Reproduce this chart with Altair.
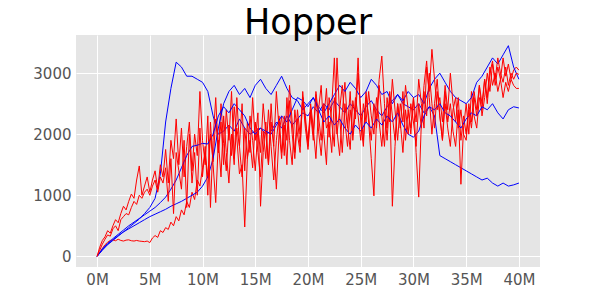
import altair as alt
import pandas as pd

# x step (millions of timesteps) for each kind of series
red_step = 0.25
blue_step = 0.5

x_ticks = [0, 5, 10, 15, 20, 25, 30, 35, 40]
y_ticks = [0, 1000, 2000, 3000]
title_text = ["Hopper"]

blue_1 = [
    0, 100, 190, 260, 330, 400, 470, 540, 610, 700,
    800, 950, 1350, 2200, 2750, 3180, 3100, 2950, 2950, 2900,
    2850, 2700, 2300, 2000, 2050, 2150, 2050, 2250, 2100, 2000,
    2050, 2100, 2000, 2050, 2200, 2100, 2300, 2150, 2250, 2350,
    2300, 2450, 2350, 2500, 2400, 2550, 2450, 2350, 2500, 2400,
    2300, 2450, 2550, 2400, 2300, 2450, 2550, 2650, 2500, 2450,
    2400, 2500, 2350, 2450, 2300, 1650, 1600, 1550, 1500, 1450,
    1400, 1350, 1300, 1250, 1280, 1200, 1150, 1200, 1150, 1170,
    1200,
]
blue_2 = [
    0, 110, 200, 270, 340, 400, 450, 500, 550, 600,
    650, 690, 730, 770, 820, 860, 900, 950, 1000, 1050,
    1150, 1300, 1600, 2100, 2500, 2700, 2800, 2650, 2750, 2600,
    2800, 2900, 2750, 2650, 2800, 2950, 2750, 2600, 2550, 2400,
    2500, 2600, 2450, 2350, 2500, 2650, 2800, 2700, 2850, 2750,
    2600, 2700, 2900, 2800, 2650, 2700, 2500, 2650, 2550, 2700,
    2600, 2650, 2500, 2750, 2900, 3000, 2850, 2700, 2600, 2550,
    2500, 2600, 2850, 2950, 3100, 3250, 3150, 3300, 3450, 3100,
    2900,
]
blue_3 = [
    0, 120, 210, 290, 360, 430, 500, 560, 620, 680,
    740, 800, 880, 970, 1100, 1250, 1450, 1650, 1800, 1820,
    1850, 1840, 2000, 2300, 2450, 2350, 2500, 2400, 2300, 2100,
    2000, 2100, 2050, 2000, 2150, 2300, 2200, 2400, 2600, 2550,
    2450, 2600, 2400, 2200, 2300, 2150, 2250, 2100, 2000, 2150,
    2050, 2200, 2100, 2250, 2150, 2300, 2200, 2350, 2150, 2000,
    1950, 2050, 2300, 2450, 2400, 2500, 2350, 2300, 2200, 2100,
    2250, 2350, 2300, 2450, 2400, 2500, 2350, 2250, 2400, 2450,
    2430,
]

red_1 = [
    0, 60, 130, 190, 230, 260, 270, 255, 280, 260, 250, 265, 270, 255, 250, 260, 250, 245, 240, 250,
    225, 300, 340, 310, 420, 390, 470, 440, 560, 500, 650, 580, 760, 680, 900, 800, 1050, 930, 1250, 1150,
    1450, 1700, 1300, 2000, 1550, 2250, 1700, 2500, 1850, 1400, 2150, 1650, 2450, 1950, 1350, 1500, 480, 1600, 1900, 1450,
    2200, 1700, 1300, 2050, 1600, 2400, 1800, 1250, 1900, 2300, 1700, 2150, 1500, 2550, 2000, 1600, 2250, 1800, 2600, 2100,
    1750, 2350, 1900, 2650, 2050, 1650, 2250, 2750, 1950, 2450, 3250, 2050, 1650, 2350, 2850, 2150, 1750, 2550, 2250, 3000,
    2400, 1900, 2700, 2200, 1600, 990, 2300, 2900, 3280, 2500, 1900, 2600, 820, 1800, 2500, 2100, 2700, 1900, 2400, 2000,
    2600, 1700, 970, 2200, 2800, 3200, 2600, 2000, 2500, 2900, 2300, 1900, 2700, 2200, 2500, 2050, 1800, 2400, 1180, 2100,
    2500, 2000, 2700, 2300, 2100, 2600, 2400, 2900, 2500, 3000, 3200, 2800, 3100, 2900, 3250, 2950, 3150, 2900, 3050, 3100,
    3050,
]
red_2 = [
    0, 150, 260, 320, 420, 380, 500, 600, 550, 700, 820, 760, 900, 1020, 950, 1250, 1480, 1000, 1150, 1300,
    1050, 1250, 1400, 1100, 1500, 1300, 1750, 1200, 1900, 1600, 2250, 1500, 2100, 1300, 1800, 2200, 1400, 2000, 1650, 2700,
    1900, 1500, 2300, 800, 1900, 2600, 1700, 2200, 1500, 2400, 1900, 2700, 1600, 2100, 1800, 2500, 1400, 2200, 1700, 2600,
    1900, 2350, 820, 1700, 2200, 1500, 2500, 1800, 1100, 2000, 2300, 1650, 2600, 1900, 1500, 2400, 2000, 1700, 2700, 2200,
    1900, 2500, 2100, 1600, 2400, 2800, 2000, 1500, 2600, 2200, 1800, 3250, 2300, 1700, 2500, 2100, 2700, 1900, 2400, 3250,
    2200, 1800, 2600, 2300, 1900, 2500, 2100, 2800, 2300, 1800, 2600, 2200, 2900, 2400, 1900, 2500, 2200, 2800, 2400, 2100,
    2600, 2200, 2900, 2500, 2100, 3100, 2700, 3390, 2900, 2400, 2600, 2200, 2800, 2400, 3000, 2500, 2200, 2600, 1900, 2300,
    2000, 2500, 2200, 2700, 2400, 2800, 2300, 2600, 3000, 2700, 3150, 2900, 3250, 3000, 2850, 3100, 2800, 3000, 2900, 3000,
    2980,
]
red_3 = [
    0, 100, 200, 280, 350, 330, 450, 500, 420, 600, 650, 700, 680, 800, 900, 850, 1000, 950, 1050, 1100,
    1000, 1150, 1250, 1050, 1300, 1200, 1450, 900, 1600, 700, 1700, 1400, 1100, 1900, 800, 2000, 1200, 1700, 1000, 2100,
    1300, 1800, 1000, 2200, 1500, 880, 1900, 1300, 2300, 1700, 1200, 2000, 1500, 2600, 1800, 1300, 2100, 1600, 2300, 1900,
    1400, 2100, 1700, 2500, 2000, 1500, 2200, 1800, 2700, 2100, 1600, 2300, 1900, 2800, 2200, 1700, 2400, 2000, 2600, 2300,
    1800, 2400, 2000, 2700, 2300, 1900, 2500, 2100, 2200, 1700, 2600, 2000, 2400, 2800, 2200, 1800, 2400, 2000, 2600, 2300,
    1900, 2500, 2200, 2700, 2300, 2000, 2600, 2200, 1800, 2400, 2100, 2700, 2300, 1900, 2500, 2200, 1700, 2400, 2000, 2500,
    2200, 1800, 2500, 2100, 2700, 2300, 3000, 2500, 2100, 2700, 2300, 1900, 2500, 2100, 1800, 2400, 2600, 2100, 2400, 2000,
    1900, 2400, 2100, 2600, 2300, 2800, 2500, 2900, 2600, 3100, 2800, 3000, 2700, 2900, 2600, 2850, 2700, 2900, 2800, 2750,
    2750,
]

series = [
    ("b1", "blue", blue_1, blue_step),
    ("r1", "red", red_1, red_step),
    ("b2", "blue", blue_2, blue_step),
    ("r2", "red", red_2, red_step),
    ("b3", "blue", blue_3, blue_step),
    ("r3", "red", red_3, red_step),
]

rows = []
for order, (name, kind, vals, step) in enumerate(series):
    for i, v in enumerate(vals):
        rows.append({"run": name, "kind": kind, "order": order, "step": i * step, "reward": v})
df = pd.DataFrame(rows)

lines = (
    alt.Chart(df)
    .mark_line(strokeWidth=1, clip=True)
    .encode(
        x=alt.X(
            "step:Q",
            scale=alt.Scale(domain=[-2, 42], nice=False, zero=False),
            axis=alt.Axis(values=x_ticks, labelExpr="datum.value + 'M'", title=None),
        ),
        y=alt.Y(
            "reward:Q",
            scale=alt.Scale(domain=[-175, 3625], nice=False, zero=False),
            axis=alt.Axis(values=y_ticks, format="d", title=None),
        ),
        color=alt.Color(
            "kind:N",
            scale=alt.Scale(domain=["blue", "red"], range=["#0000FF", "#FF0000"]),
            legend=None,
        ),
        detail="run:N",
        order="step:Q",
    )
)

title = (
    alt.Chart(pd.DataFrame({"t": title_text}))
    .mark_text(
        font="DejaVu Sans",
        fontSize=35,
        color="black",
        align="center",
        baseline="alphabetic",
    )
    .encode(text="t:N", x=alt.value(232), y=alt.value(-1))
)

chart = (
    alt.layer(lines, title)
    .properties(
        width=464,
        height=232,
        autosize=alt.AutoSizeParams(type="none"),
        padding={"left": 68, "top": 27, "right": 52, "bottom": 25},
    )
    .configure_view(fill="#E5E5E5", stroke=None)
    .configure_axis(
        domain=False,
        ticks=False,
        grid=True,
        gridColor="white",
        gridWidth=1,
        labelFont="DejaVu Sans",
        labelFontSize=15,
        labelColor="#555555",
    )
    .configure_axisX(labelPadding=5)
    .configure_axisY(labelPadding=5)
)

chart.save("out.html", embed_options={"renderer": "svg", "actions": False})
